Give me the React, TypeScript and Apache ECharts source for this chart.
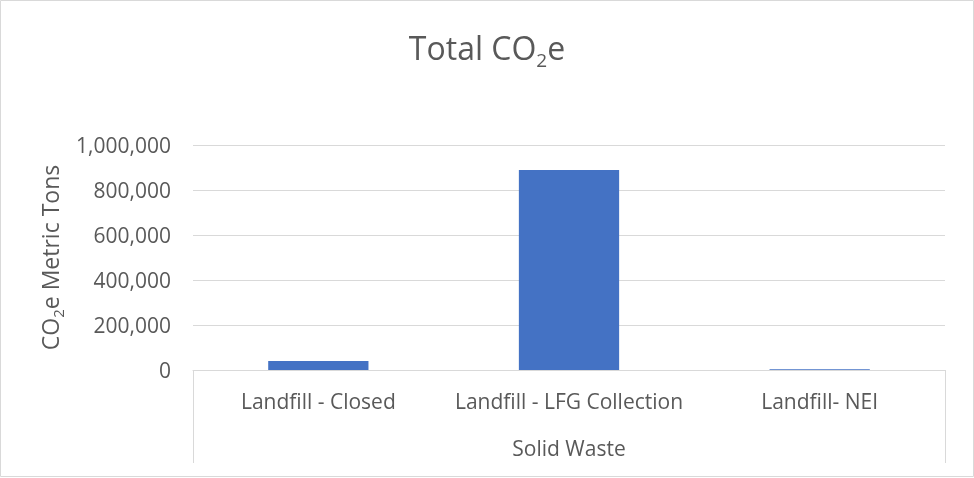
import React, { useEffect, useRef } from "react";
import * as echarts from "echarts";

const categories = ["Landfill - Closed", "Landfill - LFG Collection", "Landfill- NEI"];
const groupLabels = ["Solid Waste"];
const totalCO2e = [40000, 889000, 3000];
const yTicks = { min: 0, max: 1000000, interval: 200000 };

const TEXT = "#595959";
const GRID = "#d9d9d9";
const BAR = "#4472c4";
const FONT = "Open Sans";

export default function App() {
  const ref = useRef<HTMLDivElement>(null);
  useEffect(() => {
    document.body.style.margin = "0";
    const chart = echarts.init(ref.current!, null, { renderer: "svg" });
    const gridBox = { left: 193, right: 29, top: 145, bottom: 108 };
    chart.setOption({
      animation: false,
      textStyle: { fontFamily: FONT, color: TEXT, fontWeight: "normal" },
      title: {
        text: "{a|Total CO}{s|2}{a|e}",
        left: "center",
        top: 20,
        textStyle: {
          fontWeight: "normal",
          rich: {
            a: { fontFamily: FONT, fontSize: 32, fontWeight: "normal", color: TEXT, lineHeight: 44 },
            s: { fontFamily: FONT, fontSize: 19, fontWeight: "normal", color: TEXT, lineHeight: 23, verticalAlign: "bottom" },
          },
        },
      },
      graphic: [
        {
          type: "rect",
          shape: { x: 0.5, y: 0.5, width: 973, height: 476 },
          style: { fill: "none", stroke: GRID, lineWidth: 1 },
          silent: true,
        },
      ],
      grid: [
        { ...gridBox, containLabel: false },
        { ...gridBox, containLabel: false },
      ],
      xAxis: [
        {
          type: "category",
          gridIndex: 0,
          data: categories,
          axisLine: { show: true, lineStyle: { color: GRID, width: 1 } },
          axisTick: { show: false },
          axisLabel: { color: TEXT, fontFamily: FONT, fontSize: 21, margin: 20, interval: 0 },
        },
        {
          type: "category",
          gridIndex: 1,
          data: groupLabels,
          position: "bottom",
          axisLine: { show: false },
          axisTick: { show: true, length: 93, lineStyle: { color: GRID, width: 1 } },
          axisLabel: { color: TEXT, fontFamily: FONT, fontSize: 21, margin: 67 },
        },
      ],
      yAxis: [
        {
          type: "value",
          gridIndex: 0,
          min: yTicks.min,
          max: yTicks.max,
          interval: yTicks.interval,
          name: "{a|CO}{s|2}{a|e Metric Tons}",
          nameLocation: "middle",
          nameRotate: 90,
          nameGap: 126,
          nameTextStyle: {
            rich: {
              a: { fontFamily: FONT, fontSize: 23, color: TEXT, lineHeight: 30 },
              s: { fontFamily: FONT, fontSize: 15, color: TEXT, lineHeight: 17, verticalAlign: "bottom" },
            },
          },
          axisLine: { show: false },
          axisTick: { show: false },
          splitLine: { show: true, lineStyle: { color: GRID, width: 1 } },
          axisLabel: {
            color: TEXT,
            fontFamily: FONT,
            fontSize: 21,
            margin: 22,
            formatter: (v: number) => v.toLocaleString("en-US"),
          },
        },
        {
          type: "value",
          gridIndex: 1,
          show: false,
          splitLine: { show: false },
        },
      ],
      series: [
        {
          type: "bar",
          xAxisIndex: 0,
          yAxisIndex: 0,
          data: totalCO2e,
          barWidth: "40%",
          itemStyle: { color: BAR },
        },
      ],
    });
    return () => chart.dispose();
  }, []);
  return (
    <div
      ref={ref}
      style={{ position: "fixed", left: 0, top: 0, width: 974, height: 478 }}
    />
  );
}
